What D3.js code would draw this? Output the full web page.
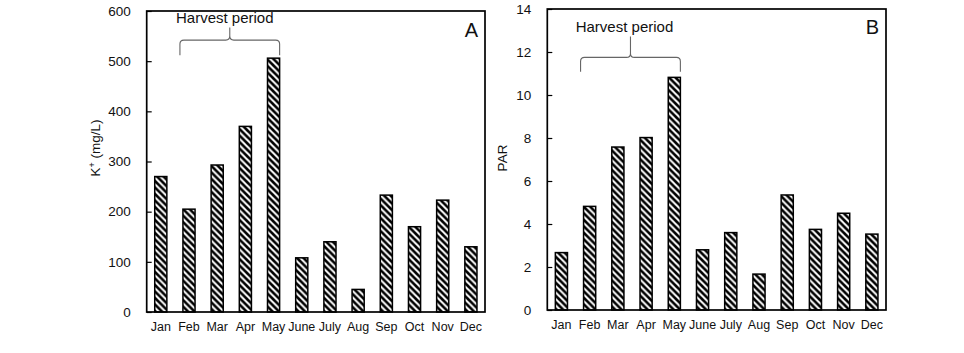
<!DOCTYPE html>
<html>
<head>
<meta charset="utf-8">
<script src="https://cdn.jsdelivr.net/npm/d3@7"></script>
<style>
  html, body { margin: 0; padding: 0; background: #fff; }
  svg { display: block; }
  text { font-family: Arial, "Liberation Sans", sans-serif; fill: #111; }
</style>
</head>
<body>
<svg id="chart" width="964" height="353"></svg>
<script>
// ---- data ----
const months = ["Jan","Feb","Mar","Apr","May","June","July","Aug","Sep","Oct","Nov","Dec"];
const kValues = [270, 205, 293, 370, 506, 108, 140, 45, 233, 170, 223, 130];
const parValues = [2.67, 4.82, 7.58, 8.02, 10.82, 2.8, 3.6, 1.67, 5.35, 3.75, 4.5, 3.53];
const kTicks = [0, 100, 200, 300, 400, 500, 600];
const parTicks = [0, 2, 4, 6, 8, 10, 12, 14];
const harvestMonths = ["Feb", "May"];
const annotationText = "Harvest period";

const svg = d3.select("#chart");

// hatch pattern
const defs = svg.append("defs");
const P = 6.5;
const pat = defs.append("pattern")
  .attr("id", "hatch")
  .attr("patternUnits", "userSpaceOnUse")
  .attr("width", P).attr("height", P);
pat.append("rect").attr("width", P).attr("height", P).attr("fill", "#fff");
pat.append("path")
  .attr("d", `M-1,-1 L${P+1},${P+1} M${-P/2-1},${P/2-1} L${P/2+1},${3*P/2+1} M${P/2-1},${-P/2-1} L${3*P/2+1},${P/2+1}`)
  .attr("stroke", "#000").attr("stroke-width", 2.6);

function panel(cfg) {
  const g = svg.append("g");
  const x = d3.scaleBand().domain(months)
    .range([cfg.left, cfg.right]).paddingInner(0.57).paddingOuter(0.285);
  const y = d3.scaleLinear().domain([0, cfg.ticks[cfg.ticks.length - 1]])
    .range([cfg.bottom, cfg.top]);

  // bars
  g.selectAll("rect.bar").data(cfg.values).enter().append("rect")
    .attr("class", "bar")
    .attr("x", (d, i) => x(months[i]))
    .attr("width", x.bandwidth())
    .attr("y", d => y(d))
    .attr("height", d => y(0) - y(d))
    .attr("fill", "url(#hatch)")
    .attr("stroke", "#000").attr("stroke-width", 1.5);

  // left axis with inward ticks
  const yAxis = d3.axisLeft(y).tickValues(cfg.ticks).tickSize(-5).tickPadding(16)
    .tickFormat(d3.format("d"));
  const ya = g.append("g").attr("transform", `translate(${cfg.left},0)`).call(yAxis);
  ya.select(".domain").remove();
  ya.selectAll("line").attr("stroke", "#000").attr("stroke-width", 1.2);
  ya.selectAll("text").style("font-size", "13.5px")
    .style("font-family", "Arial, 'Liberation Sans', sans-serif").attr("fill", "#111");

  // bottom axis (labels only)
  const xAxis = d3.axisBottom(x).tickSize(0).tickPadding(10);
  const xa = g.append("g").attr("transform", `translate(0,${cfg.bottom})`).call(xAxis);
  xa.select(".domain").remove();
  xa.selectAll("text").style("font-size", "12.5px")
    .style("font-family", "Arial, 'Liberation Sans', sans-serif").attr("fill", "#111");

  // frame
  g.append("rect")
    .attr("x", cfg.left).attr("y", cfg.top)
    .attr("width", cfg.right - cfg.left).attr("height", cfg.bottom - cfg.top)
    .attr("fill", "none").attr("stroke", "#000").attr("stroke-width", 1.7);

  // panel letter
  g.append("text")
    .attr("x", cfg.right - 7).attr("y", cfg.letterY)
    .attr("text-anchor", "end").style("font-size", "20px")
    .text(cfg.letter);

  // y axis title
  const yt = g.append("text")
    .attr("transform", `translate(${cfg.titleX},${cfg.titleY}) rotate(-90)`)
    .attr("text-anchor", "middle").style("font-size", "13.5px");
  cfg.title(yt);

  // brace annotation
  const x0 = x(harvestMonths[0]) - 3;
  const x1 = x(harvestMonths[1]) + x.bandwidth();
  const xm = (x0 + x1) / 2;
  const yEnd = y(cfg.braceEnd), yLine = y(cfg.braceLine), yPeak = y(cfg.bracePeak);
  const r = 4;
  const p = d3.path();
  p.moveTo(x0, yEnd);
  p.lineTo(x0, yLine + r);
  p.quadraticCurveTo(x0, yLine, x0 + r, yLine);
  p.lineTo(xm - r, yLine);
  p.quadraticCurveTo(xm, yLine, xm, yLine - r);
  p.lineTo(xm, yPeak);
  p.moveTo(xm, yLine - r);
  p.quadraticCurveTo(xm, yLine, xm + r, yLine);
  p.lineTo(x1 - r, yLine);
  p.quadraticCurveTo(x1, yLine, x1, yLine + r);
  p.lineTo(x1, yEnd);
  g.append("path").attr("d", p.toString())
    .attr("fill", "none").attr("stroke", "#666").attr("stroke-width", 1.1);

  g.append("text")
    .attr("x", xm + cfg.textShift).attr("y", cfg.textY)
    .attr("text-anchor", "middle").style("font-size", "15px")
    .text(annotationText);
}

panel({
  left: 146.7, right: 485, top: 11, bottom: 312,
  values: kValues, ticks: kTicks, letter: "A", letterY: 37,
  titleX: 100, titleY: 148,
  title: t => { t.append("tspan").text("K"); t.append("tspan").attr("dy", -5).style("font-size", "9px").text("+");
                t.append("tspan").attr("dy", 5).text(" (mg/L)"); },
  braceEnd: 512, braceLine: 542, bracePeak: 567, textY: 23, textShift: -5
});

panel({
  left: 547.3, right: 886, top: 9, bottom: 310,
  values: parValues, ticks: parTicks, letter: "B", letterY: 34,
  titleX: 507, titleY: 158,
  title: t => t.text("PAR"),
  braceEnd: 11.08, braceLine: 11.75, bracePeak: 12.72, textY: 32, textShift: -6
});
</script>
</body>
</html>
